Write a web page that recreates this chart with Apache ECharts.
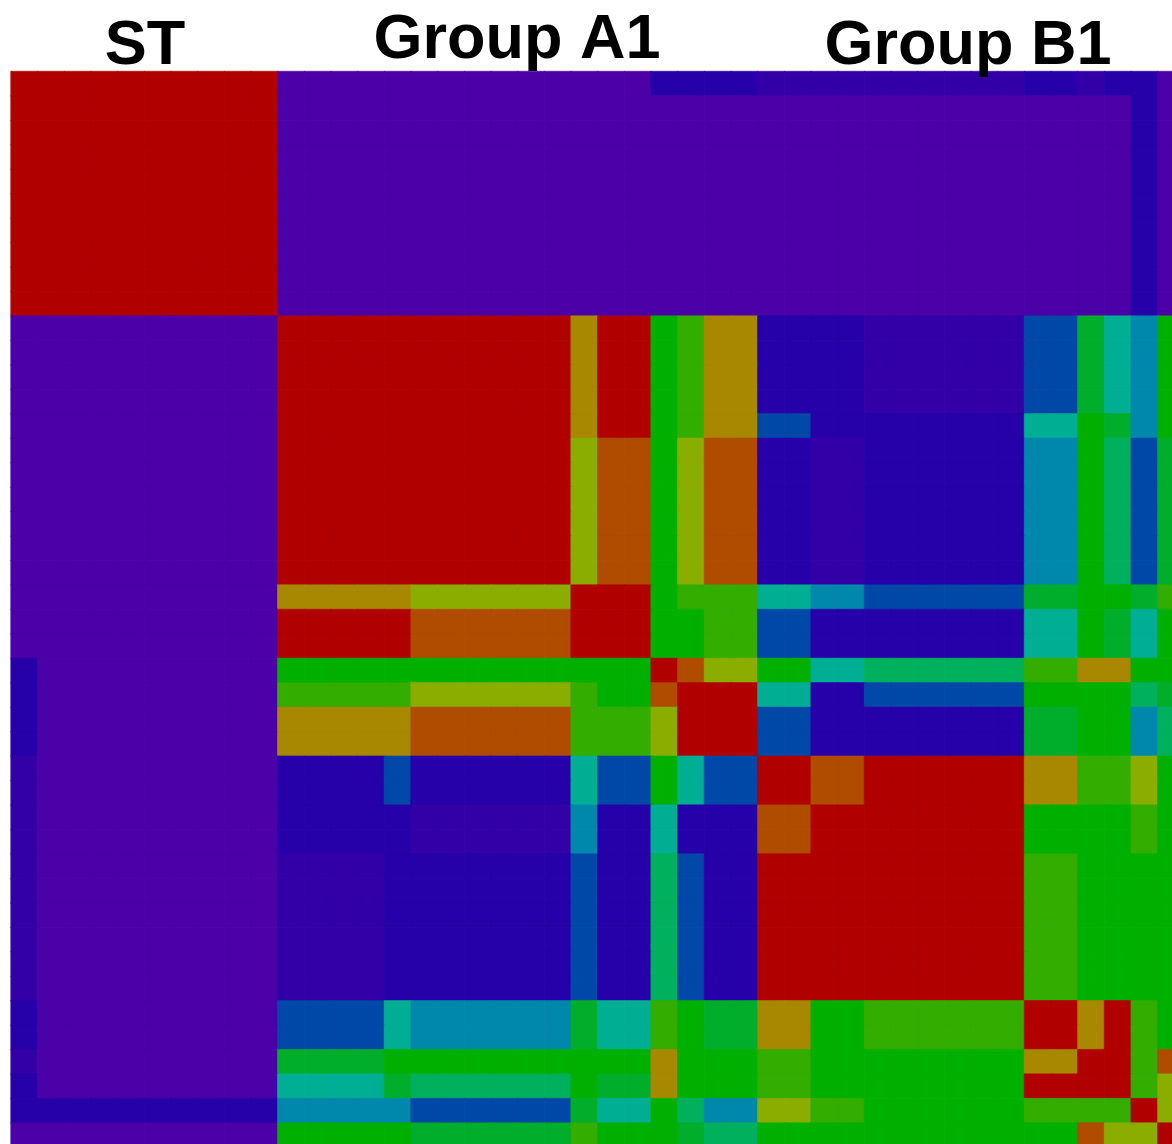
<!DOCTYPE html>
<html>
<head>
<meta charset="utf-8">
<style>html,body{margin:0;padding:0;background:#fff;overflow:hidden;width:1172px;height:1144px}#c{width:1200px;height:1200px}</style>
<script src="https://cdn.jsdelivr.net/npm/echarts@6/dist/echarts.min.js"></script>
</head>
<body>
<div id="c"></div>
<script>
const groupLabels = ["ST", "Group A1", "Group B1"];
const categories = Array.from({length: 44}, (_, i) => "S" + (i + 1));
// Similarity tier per cell: 0 = lowest (purple) ... 13 = highest (red)
const tierColors = ["#4C00A8","#3300A8","#2600A8","#0048A8","#0088AC","#00AE94","#00B05C","#00AE2C","#00B000","#33AD00","#8AAD00","#A88800","#B04C00","#B00000"];
const r0 = [13,13,13,13,13,13,13,13,13,13, 0,0,0,0, 0, 0,0,0,0,0,0, 0, 0,0, 2, 2, 2,2, 1,1, 1,1, 1,1,1,1,1,1, 2,2, 1, 2, 2, 0];
const r1 = [13,13,13,13,13,13,13,13,13,13, 0,0,0,0, 0, 0,0,0,0,0,0, 0, 0,0, 0, 0, 0,0, 0,0, 0,0, 0,0,0,0,0,0, 0,0, 0, 0, 2, 0];
const rA = [0,0,0,0,0,0,0,0,0,0, 13,13,13,13, 13, 13,13,13,13,13,13, 11, 13,13, 8, 9, 11,11, 2,2, 2,2, 1,1,1,1,1,1, 3,3, 7, 5, 4, 8];
const rB = [0,0,0,0,0,0,0,0,0,0, 13,13,13,13, 13, 13,13,13,13,13,13, 11, 13,13, 8, 9, 11,11, 3,3, 2,2, 2,2,2,2,2,2, 5,5, 8, 7, 4, 8];
const rC = [0,0,0,0,0,0,0,0,0,0, 13,13,13,13, 13, 13,13,13,13,13,13, 10, 12,12, 8, 10, 12,12, 2,2, 1,1, 2,2,2,2,2,2, 4,4, 8, 6, 3, 7];
const rD = [0,0,0,0,0,0,0,0,0,0, 11,11,11,11, 11, 10,10,10,10,10,10, 13, 13,13, 8, 9, 9,9, 5,5, 4,4, 3,3,3,3,3,3, 7,7, 8, 8, 7, 9];
const rE = [0,0,0,0,0,0,0,0,0,0, 13,13,13,13, 13, 12,12,12,12,12,12, 13, 13,13, 8, 8, 9,9, 3,3, 2,2, 2,2,2,2,2,2, 5,5, 8, 7, 5, 8];
const rF = [2,0,0,0,0,0,0,0,0,0, 8,8,8,8, 8, 8,8,8,8,8,8, 8, 8,8, 13, 12, 10,10, 8,8, 5,5, 6,6,6,6,6,6, 9,9, 11, 11, 8, 8];
const rG = [2,0,0,0,0,0,0,0,0,0, 9,9,9,9, 9, 10,10,10,10,10,10, 9, 8,8, 12, 13, 13,13, 5,5, 2,2, 3,3,3,3,3,3, 8,8, 8, 8, 6, 7];
const rH = [2,0,0,0,0,0,0,0,0,0, 11,11,11,11, 11, 12,12,12,12,12,12, 9, 9,9, 10, 13, 13,13, 3,3, 2,2, 2,2,2,2,2,2, 7,7, 8, 8, 4, 6];
const rI = [1,0,0,0,0,0,0,0,0,0, 2,2,2,2, 3, 2,2,2,2,2,2, 5, 3,3, 8, 5, 3,3, 13,13, 12,12, 13,13,13,13,13,13, 11,11, 9, 9, 10, 8];
const rJ = [1,0,0,0,0,0,0,0,0,0, 2,2,2,2, 2, 1,1,1,1,1,1, 4, 2,2, 5, 2, 2,2, 12,12, 13,13, 13,13,13,13,13,13, 8,8, 8, 8, 9, 8];
const rK = [1,0,0,0,0,0,0,0,0,0, 1,1,1,1, 2, 2,2,2,2,2,2, 3, 2,2, 6, 3, 2,2, 13,13, 13,13, 13,13,13,13,13,13, 9,9, 8, 8, 8, 8];
const rL = [2,0,0,0,0,0,0,0,0,0, 3,3,3,3, 5, 4,4,4,4,4,4, 7, 5,5, 9, 8, 7,7, 11,11, 8,8, 9,9,9,9,9,9, 13,13, 11, 13, 9, 8];
const rM = [1,0,0,0,0,0,0,0,0,0, 7,7,7,7, 8, 8,8,8,8,8,8, 8, 8,8, 11, 8, 8,8, 9,9, 8,8, 8,8,8,8,8,8, 11,11, 13, 13, 9, 12];
const rN = [2,0,0,0,0,0,0,0,0,0, 5,5,5,5, 7, 6,6,6,6,6,6, 8, 7,7, 11, 8, 8,8, 9,9, 8,8, 8,8,8,8,8,8, 13,13, 13, 13, 9, 10];
const rO = [2,2,2,2,2,2,2,2,2,2, 4,4,4,4, 4, 3,3,3,3,3,3, 7, 5,5, 8, 6, 4,4, 10,10, 9,9, 8,8,8,8,8,8, 9,9, 9, 9, 13, 10];
const rP = [0,0,0,0,0,0,0,0,0,0, 8,8,8,8, 8, 7,7,7,7,7,7, 9, 8,8, 8, 7, 6,6, 8,8, 8,8, 8,8,8,8,8,8, 8,8, 12, 10, 10, 13];
const rowOrder = [r0, r1,r1,r1,r1,r1,r1,r1,r1,r1,
  rA,rA,rA,rA, rB, rC,rC,rC,rC,rC,rC, rD, rE,rE, rF, rG, rH,rH, rI,rI, rJ,rJ,
  rK,rK,rK,rK,rK,rK, rL,rL, rM, rN, rO, rP];

const data = [];
rowOrder.forEach((row, y) => row.forEach((v, x) => data.push({
  value: [x, y, v],
  itemStyle: {color: tierColors[v], borderColor: tierColors[v], borderWidth: 0.6}
})));

const chart = echarts.init(document.getElementById('c'), null, {renderer: 'canvas'});
const titleStyle = t => ({fill: '#000', font: 'bold 63px "Liberation Sans", Arial, sans-serif', text: t, textAlign: 'center', textVerticalAlign: 'middle'});
chart.setOption({
  animation: false,
  backgroundColor: '#fff',
  grid: {left: 11, top: 71.5, width: 1173.5, height: 1076, containLabel: false},
  xAxis: {type: 'category', position: 'top', data: categories, axisLabel: {show: false}, axisTick: {show: false}, splitLine: {show: false}, axisLine: {show: false}},
  yAxis: {type: 'category', inverse: true, data: categories, axisLabel: {show: false}, axisTick: {show: false}, splitLine: {show: false}, axisLine: {show: true, lineStyle: {color: '#8a8a8a', width: 1}}},
  series: [{type: 'heatmap', data: data, progressive: 0, emphasis: {disabled: true}}],
  graphic: [
    {type: 'text', z: 100, x: 145, y: 47, style: titleStyle(groupLabels[0])},
    {type: 'text', z: 100, x: 517, y: 41, style: titleStyle(groupLabels[1])},
    {type: 'text', z: 100, x: 968, y: 47, style: titleStyle(groupLabels[2])}
  ]
});
</script>
</body>
</html>
